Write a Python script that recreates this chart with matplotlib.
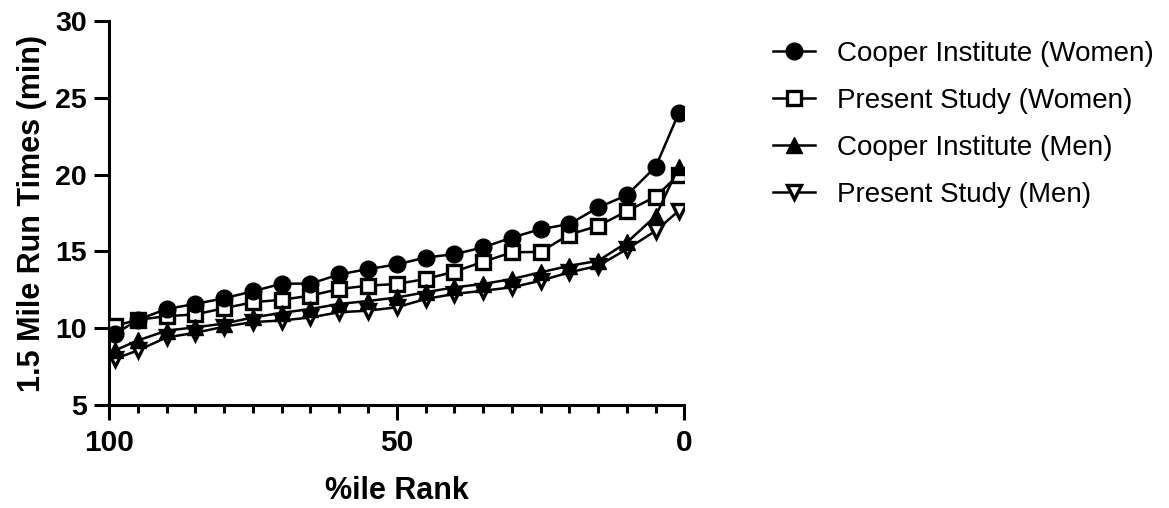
import numpy as np
import matplotlib
matplotlib.use("Agg")
import matplotlib.pyplot as plt
from matplotlib.ticker import MultipleLocator

plt.rcParams['font.family'] = ['Liberation Sans', 'DejaVu Sans']

# percentile rank positions (0 and 100 are drawn at 1 and 99)
pct_rank = [99, 95, 90, 85, 80, 75, 70, 65, 60, 55, 50, 45, 40, 35, 30, 25, 20, 15, 10, 5, 1]

cooper_women = [9.6, 10.55, 11.25, 11.58, 11.95, 12.4, 12.9, 12.9, 13.5, 13.85, 14.15,
                14.6, 14.82, 15.26, 15.9, 16.45, 16.78, 17.86, 18.66, 20.52, 24.0]
present_women = [10.15, 10.55, 10.78, 10.9, 11.3, 11.69, 11.85, 12.12, 12.55, 12.77, 12.88,
                 13.2, 13.68, 14.32, 14.94, 14.97, 16.1, 16.66, 17.62, 18.57, 20.0]
cooper_men = [8.55, 9.2, 9.84, 10.06, 10.3, 10.7, 11.0, 11.25, 11.58, 11.77, 12.0,
              12.34, 12.66, 12.88, 13.2, 13.64, 14.06, 14.39, 15.58, 17.31, 20.5]
present_men = [8.0, 8.55, 9.4, 9.7, 10.1, 10.4, 10.5, 10.7, 11.04, 11.14, 11.36,
               11.9, 12.23, 12.44, 12.66, 13.09, 13.64, 14.06, 15.15, 16.34, 17.64]

series_labels = ["Cooper Institute (Women)", "Present Study (Women)",
                 "Cooper Institute (Men)", "Present Study (Men)"]

fig = plt.figure(figsize=(11.69, 5.08), dpi=100)
ax = fig.add_axes([109 / 1169, 103 / 508, 575.5 / 1169, 384 / 508])

lw = 1.8
h1, = ax.plot(pct_rank, cooper_women, color='black', lw=lw, marker='o', ms=12,
              mfc='black', mec='black', mew=1, zorder=6, label=series_labels[0])
h2, = ax.plot(pct_rank, present_women, color='black', lw=lw, marker='s', ms=10,
              mfc='white', mec='black', mew=2.4, zorder=3, label=series_labels[1])
h3, = ax.plot(pct_rank, cooper_men, color='black', lw=lw, marker='^', ms=11.5,
              mfc='black', mec='black', mew=1, zorder=5, label=series_labels[2])
h4, = ax.plot(pct_rank, present_men, color='black', lw=lw, marker='v', ms=10.5,
              mfc='white', mec='black', mew=2.4, zorder=4, label=series_labels[3])

ax.set_xlim(100, 0)
ax.set_ylim(5, 30)
ax.xaxis.set_major_locator(MultipleLocator(50))
ax.xaxis.set_minor_locator(MultipleLocator(5))
ax.yaxis.set_major_locator(MultipleLocator(5))

for side in ['top', 'right']:
    ax.spines[side].set_visible(False)
for side in ['left', 'bottom']:
    ax.spines[side].set_linewidth(2.2)

ax.tick_params(axis='y', which='major', length=11, width=2.2, pad=5, labelsize=20.5)
ax.tick_params(axis='x', which='major', length=11, width=2.2, pad=6, labelsize=21.5)
ax.tick_params(axis='x', which='minor', length=6, width=2.2)
for t in ax.get_xticklabels() + ax.get_yticklabels():
    t.set_fontweight('bold')

ax.set_xlabel("%ile Rank", fontsize=22, fontweight='bold', labelpad=14)
ax.set_ylabel("1.5 Mile Run Times (min)", fontsize=22, fontweight='bold', labelpad=6)

fig.legend(handles=[h1, h2, h3, h4], loc='upper left',
           bbox_to_anchor=(773 / 1169, 1 - 41 / 508), frameon=False, fontsize=20,
           handlelength=1.5, handletextpad=0.8, labelspacing=0.75,
           borderpad=0, borderaxespad=0)

fig.savefig("out.png", dpi=100)
